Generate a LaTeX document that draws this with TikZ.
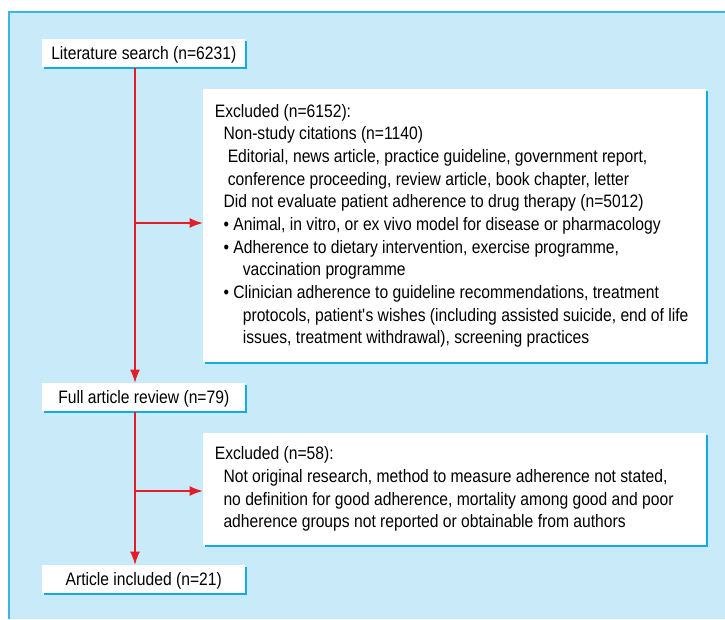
\documentclass[tikz,border=0pt]{standalone}
\usepackage{fontspec}
\setmainfont{Liberation Sans}[FakeStretch=0.87]
\usepackage{tikz}
\usetikzlibrary{arrows.meta, shadows, positioning}

\definecolor{panelblue}{RGB}{200,234,249}
\definecolor{panelline}{RGB}{60,180,230}
\definecolor{boxshadow}{RGB}{20,170,228}
\definecolor{flowred}{RGB}{228,30,40}

\tikzset{
  boxshade/.style={drop shadow={shadow xshift=1.5pt, shadow yshift=-1.5pt, fill=boxshadow, opacity=1}},
  stagebox/.style={boxshade, fill=white, minimum width=152.25pt, minimum height=21pt,
    inner ysep=0pt, text height=15.2pt, text depth=5.8pt, anchor=north west},
  exbox/.style={boxshade, fill=white, minimum width=377.25pt, anchor=north west},
  extext/.style={align=left, inner sep=0pt, anchor=west},
  flow/.style={draw=flowred, line width=1.4pt, -{Latex[length=10pt,width=7.5pt]}}
}

\begin{document}
\begin{tikzpicture}[x=0.75pt, y=-0.75pt, font=\fontsize{13.5}{17}\selectfont]
    \useasboundingbox (0,0) rectangle (725,619);
    % 1. Nền
    \fill[panelblue] (9,12) rectangle (725,619);
    \draw[panelline, line width=0.9pt] (9,619) -- (9,12) -- (725,12);

    % 2. Các bước chính
    \node[stagebox] (search) at (42,39) {Literature search (n=6231)};
    \node[stagebox] (review) at (42,383) {Full article review (n=79)};
    \node[stagebox] (included) at (42,565) {Article included (n=21)};

    % 3. Các hộp loại trừ
    \node[exbox, minimum height=204.75pt] (excl1) at (203,89) {};
    \node[extext, xshift=8.7pt] (excl1txt) at (excl1.west) {%
        Excluded (n=6152):\\
        \hspace*{6.5pt}Non-study citations (n=1140)\\
        \hspace*{9.7pt}Editorial, news article, practice guideline, government report,\\
        \hspace*{9.7pt}conference proceeding, review article, book chapter, letter\\
        \hspace*{6.5pt}Did not evaluate patient adherence to drug therapy (n=5012)\\
        \hspace*{6.5pt}• Animal, in vitro, or ex vivo model for disease or pharmacology\\
        \hspace*{6.5pt}• Adherence to dietary intervention, exercise programme,\\
        \hspace*{21pt}vaccination programme\\
        \hspace*{6.5pt}• Clinician adherence to guideline recommendations, treatment\\
        \hspace*{21pt}protocols, patient\textquotesingle s wishes (including assisted suicide, end of life\\
        \hspace*{21pt}issues, treatment withdrawal), screening practices};
    \node[exbox, minimum height=84pt] (excl2) at (203,433) {};
    \node[extext, xshift=8.7pt] (excl2txt) at (excl2.west) {%
        Excluded (n=58):\\
        \hspace*{6.5pt}Not original research, method to measure adherence not stated,\\
        \hspace*{6.5pt}no definition for good adherence, mortality among good and poor\\
        \hspace*{6.5pt}adherence groups not reported or obtainable from authors};

    % 4. Mũi tên
    \coordinate (trunk) at (135,0);
    \coordinate (fork1) at (135,223);
    \coordinate (fork2) at (135,491);
    \draw[flow] (search.south -| trunk) -- (review.north -| trunk);
    \draw[flow] (review.south -| trunk) -- (included.north -| trunk);
    \draw[flow] (fork1) -- (fork1 -| excl1.west);
    \draw[flow] (fork2) -- (fork2 -| excl2.west);

\end{tikzpicture}
\end{document}
